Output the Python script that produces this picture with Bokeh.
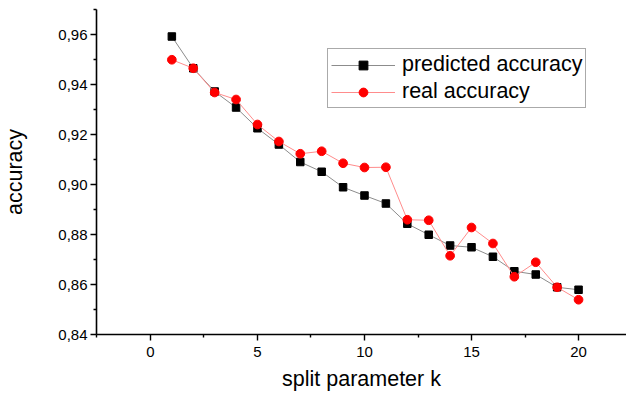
from bokeh.plotting import figure
from bokeh.models import Range1d, FixedTicker, CustomJSTickFormatter, Legend, LegendItem
from bokeh.embed import file_html
from bokeh.resources import INLINE

# ---- data ----
k = list(range(1, 21))
predicted = [0.9592, 0.9465, 0.9372, 0.9308, 0.9225, 0.9160, 0.9090, 0.9051, 0.8989, 0.8956,
             0.8924, 0.8843, 0.8799, 0.8756, 0.8749, 0.8711, 0.8653, 0.8640, 0.8589, 0.8579]
real = [0.9499, 0.9465, 0.9368, 0.9340, 0.9240, 0.9172, 0.9123, 0.9133, 0.9085, 0.9068,
        0.9069, 0.8859, 0.8857, 0.8715, 0.8828, 0.8764, 0.8631, 0.8689, 0.8589, 0.8539]
y_ticks = [0.84, 0.86, 0.88, 0.90, 0.92, 0.94, 0.96]
x_ticks = [0, 5, 10, 15, 20]
series_labels = ["predicted accuracy", "real accuracy"]
x_label = "split parameter k"
y_label = "accuracy"

FONT = "Liberation Sans"

p = figure(width=626, height=394, output_backend="svg", toolbar_location=None,
           x_range=Range1d(-2.52, 22.24), y_range=Range1d(0.84, 0.97),
           min_border_left=95, min_border_right=0, min_border_top=9, min_border_bottom=60)
p.outline_line_color = None
p.grid.visible = False
p.background_fill_color = "white"
p.border_fill_color = "white"

def mids(t):
    return [(a + b) / 2 for a, b in zip(t[:-1], t[1:])] + [t[-1] + (t[1] - t[0]) / 2]

p.xaxis.ticker = FixedTicker(ticks=x_ticks, minor_ticks=[x_ticks[0] - 2.5] + mids(x_ticks))
p.yaxis.ticker = FixedTicker(ticks=y_ticks, minor_ticks=mids(y_ticks))
p.yaxis.formatter = CustomJSTickFormatter(code="return tick.toFixed(2).replace('.', ',')")

for ax in (p.xaxis[0], p.yaxis[0]):
    ax.axis_line_width = 1.6
    ax.axis_line_color = "black"
    ax.major_tick_in = 0
    ax.major_tick_out = 6
    ax.minor_tick_in = 0
    ax.minor_tick_out = 3
    ax.major_tick_line_width = 1.4
    ax.minor_tick_line_width = 1.4
    ax.major_label_text_font = FONT
    ax.major_label_text_font_size = "15px"
    ax.major_label_text_color = "black"
    ax.axis_label_text_font = FONT
    ax.axis_label_text_font_size = "21.5px"
    ax.axis_label_text_font_style = "normal"
    ax.axis_label_text_color = "black"

p.xaxis.axis_label = x_label
p.yaxis.axis_label = y_label
p.xaxis.major_label_standoff = 6
p.yaxis.major_label_standoff = 3
p.xaxis.axis_label_standoff = 7
p.yaxis.axis_label_standoff = 28

l1 = p.line(k, predicted, line_color="#8c8c8c", line_width=1)
s1 = p.scatter(k, predicted, marker="square", size=7.5, fill_color="black", line_color="black")
l2 = p.line(k, real, line_color="#ff8c8c", line_width=1)
s2 = p.scatter(k, real, marker="circle", size=8.7, fill_color="red", line_color="red")

legend = Legend(items=[LegendItem(label=series_labels[0], renderers=[l1, s1]),
                       LegendItem(label=series_labels[1], renderers=[l2, s2])],
                location=(231, 226))
legend.label_text_font = FONT
legend.label_text_font_size = "21.5px"
legend.label_text_color = "black"
legend.border_line_color = "#555555"
legend.border_line_width = 1.5
legend.padding = 3
legend.margin = 0
legend.spacing = 2
legend.glyph_width = 64
legend.glyph_height = 22
legend.label_height = 22
legend.label_standoff = 7
legend.background_fill_alpha = 1
p.add_layout(legend)

open("out.html", "w").write(file_html(p, INLINE))
